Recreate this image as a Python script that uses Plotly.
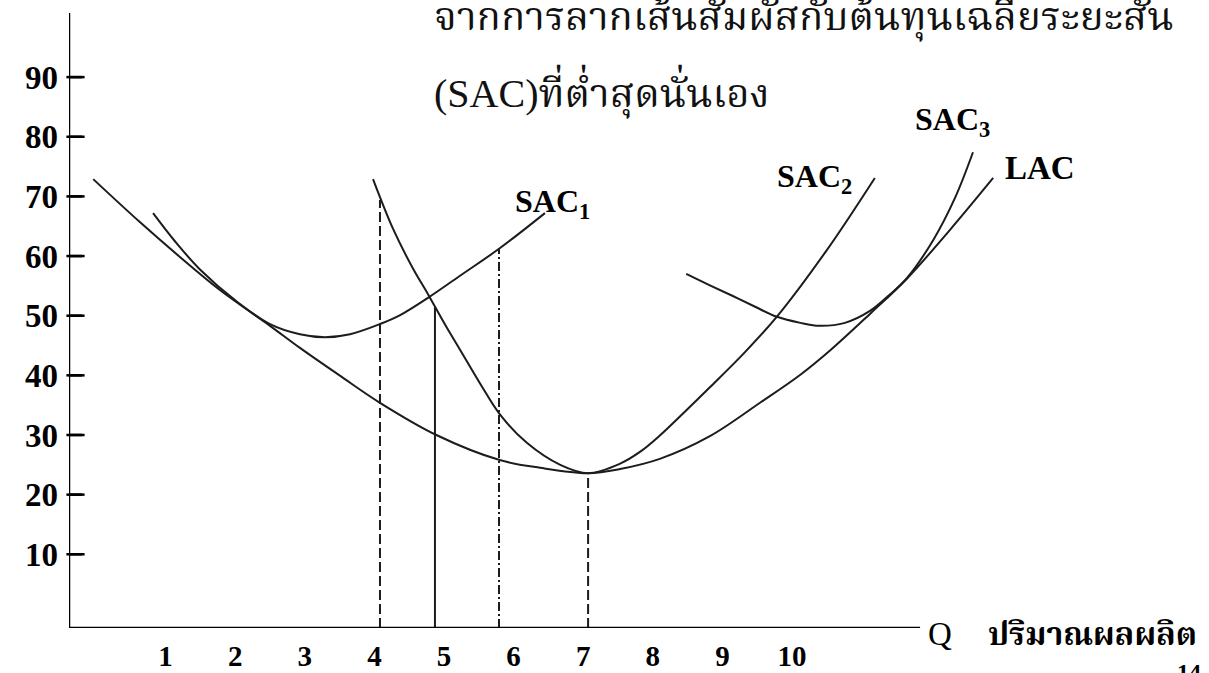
import plotly.graph_objects as go

# ---------------- data ----------------
lac_q = [-0.04, 0.63, 1.21, 1.78, 2.50, 2.93, 3.51, 4.08, 4.89, 5.80, 6.38, 7.07,
         7.53, 8.10, 8.82, 9.54, 10.12, 10.55, 11.12, 11.65, 12.27, 12.89]
lac_c = [72.9, 65.7, 59.8, 54.3, 48.3, 44.6, 39.9, 35.4, 30.0, 25.8, 24.5, 23.6,
         24.3, 26.0, 29.8, 35.4, 40.1, 44.2, 50.3, 56.2, 64.4, 73.1]

sac1_q = [0.82, 1.14, 1.49, 2.01, 2.50, 2.93, 3.29, 3.65, 4.08, 4.37, 4.77, 5.23, 5.80, 6.45]
sac1_c = [67.2, 62.4, 57.8, 52.5, 48.6, 46.9, 46.4, 46.9, 48.6, 50.1, 53.0, 56.7, 61.3, 67.2]

sac2_q = [3.98, 4.27, 4.55, 4.77, 5.01, 5.23, 5.52, 5.80, 6.19, 6.67, 7.07, 7.53,
          7.82, 8.10, 8.46, 8.82, 9.30, 9.78, 10.50, 11.19]
sac2_c = [72.9, 64.5, 58.0, 53.6, 48.6, 44.3, 38.6, 33.5, 28.7, 25.0, 23.6, 25.2,
          27.2, 29.9, 33.9, 38.0, 43.6, 49.8, 61.0, 73.1]

sac3_q = [8.48, 8.82, 9.15, 9.47, 9.76, 10.12, 10.40, 10.76, 11.12, 11.41, 11.65,
          12.03, 12.34, 12.60]
sac3_c = [57.0, 55.1, 53.3, 51.5, 49.9, 48.8, 48.3, 48.8, 50.8, 53.6, 56.3,
          62.7, 69.7, 77.4]

guide_q = [4.08, 4.87, 5.79, 7.07]
guide_top = [69.4, 51.5, 61.3, 23.6]
guide_dash = ["10px,4px", "solid", "9px,3px,2px,3px", "10px,4px"]

x_ticks = [1, 2, 3, 4, 5, 6, 7, 8, 9, 10]
x_tick_text = ["1", "2", "3", "4", "5", "6", "7", "8", "9", "10"]
y_ticks = [10, 20, 30, 40, 50, 60, 70, 80, 90]
y_tick_text = ["10", "20", "30", "40", "50", "60", "70", "80", "90"]

title_line1 = "จากการลากเส้นสัมผัสกับต้นทุนเฉลี่ยระยะสั้น"
title_line2_latin = "(SAC)"
title_line2_thai = "ที่ต่ำสุดนั่นเอง"
x_title_q = "Q"
x_title_th = "ปริมาณผลผลิต"
page_no = "14"

# ---------------- layout constants ----------------
W, H = 1209, 673
X_RANGE = [-0.388, 15.991]
Y_RANGE = [-2.36, 100.75]
X_AXIS_END = 11.84
AXIS_PX = 69
TICK_LEN_PX = 13
PX_PER_Q = (W - AXIS_PX) / (X_RANGE[1] - X_RANGE[0])
SERIF = "Liberation Serif, Times New Roman, serif"
THAI = "Liberation Serif, Noto Serif Thai, Garuda, Loma, serif"
INK = "#1c1c1c"


def px(p):
    return p / W


def py(p):
    return 1 - p / H


fig = go.Figure()

for q, c in [(lac_q, lac_c), (sac1_q, sac1_c), (sac2_q, sac2_c), (sac3_q, sac3_c)]:
    fig.add_trace(go.Scatter(x=q, y=c, mode="lines",
                             line=dict(color=INK, width=2, shape="spline", smoothing=1.0),
                             hoverinfo="skip"))

for q, top, d in zip(guide_q, guide_top, guide_dash):
    fig.add_trace(go.Scatter(x=[q, q], y=[Y_RANGE[0], top], mode="lines",
                             line=dict(color=INK, width=2, dash=d), hoverinfo="skip"))

# short tick marks pointing right from the y axis, drawn as horizontal-line markers
tick_center_q = X_RANGE[0] + (TICK_LEN_PX / 2) / PX_PER_Q
fig.add_trace(go.Scatter(x=[tick_center_q] * len(y_ticks), y=y_ticks, mode="markers",
                         marker=dict(symbol="line-ew", size=TICK_LEN_PX, color="black",
                                     line=dict(color="black", width=2.5)),
                         cliponaxis=False, hoverinfo="skip"))

# same ticks as shapes (page x, data y)
for v in y_ticks:
    fig.add_shape(type="line", xref="paper", yref="y",
                  x0=px(AXIS_PX), x1=px(AXIS_PX + TICK_LEN_PX), y0=v, y1=v,
                  line=dict(color="black", width=2.5), layer="above")

# y axis line
fig.add_shape(type="line", xref="x", yref="y", x0=X_RANGE[0], x1=X_RANGE[0],
              y0=Y_RANGE[0], y1=Y_RANGE[1], line=dict(color="black", width=2.5),
              layer="above")
# x axis line (stops before the curves end)
fig.add_shape(type="line", xref="x", yref="y", x0=X_RANGE[0], x1=X_AXIS_END,
              y0=Y_RANGE[0], y1=Y_RANGE[0], line=dict(color="black", width=2.5),
              layer="above")

fig.update_layout(
    width=W, height=H, margin=dict(l=0, r=0, t=0, b=0),
    paper_bgcolor="white", plot_bgcolor="white", showlegend=False,
    xaxis=dict(range=X_RANGE, domain=[AXIS_PX / W, 1], showgrid=False, zeroline=False,
               showline=False, tickvals=x_ticks, ticktext=x_tick_text, ticks="",
               ticklabelstandoff=8, automargin=False,
               tickfont=dict(family=SERIF, size=29, color="black", weight="bold")),
    yaxis=dict(range=Y_RANGE, domain=[45 / H, 660 / H], anchor="x",
               showgrid=False, zeroline=False, showline=False,
               tickvals=y_ticks, ticktext=y_tick_text, ticks="",
               ticklabelstandoff=10, automargin=False,
               tickfont=dict(family=SERIF, size=33, color="black", weight="bold")),
)

ann = []
ann.append(dict(text=title_line1, x=px(432), y=py(14), xanchor="left", yanchor="middle",
                font=dict(family=THAI, size=40, color="#111")))
ann.append(dict(text="<span style='font-family:Liberation Serif'>" + title_line2_latin
                + "</span>" + title_line2_thai,
                x=px(432), y=py(92), xanchor="left", yanchor="middle",
                font=dict(family=THAI, size=40, color="#111")))
ann.append(dict(text="<b>SAC<sub>1</sub></b>", x=px(513), y=py(203), xanchor="left",
                yanchor="middle", font=dict(family=SERIF, size=32, color="black")))
ann.append(dict(text="<b>SAC<sub>2</sub></b>", x=px(775), y=py(179), xanchor="left",
                yanchor="middle", font=dict(family=SERIF, size=32, color="black")))
ann.append(dict(text="<b>SAC<sub>3</sub></b>", x=px(913), y=py(121), xanchor="left",
                yanchor="middle", font=dict(family=SERIF, size=32, color="black")))
ann.append(dict(text="<b>LAC</b>", x=px(1003), y=py(168), xanchor="left",
                yanchor="middle", font=dict(family=SERIF, size=33, color="black")))
ann.append(dict(text=x_title_q, x=px(926), y=py(634), xanchor="left", yanchor="middle",
                font=dict(family=SERIF, size=33, color="black")))
ann.append(dict(text="<b>" + x_title_th + "</b>", x=px(986), y=py(634), xanchor="left",
                yanchor="middle", font=dict(family=THAI, size=32, color="black")))
ann.append(dict(text="<b>" + page_no + "</b>", x=px(1175), y=py(672), xanchor="left",
                yanchor="middle", font=dict(family=SERIF, size=24, color="black")))
for a in ann:
    a.update(xref="paper", yref="paper", showarrow=False)
fig.update_layout(annotations=ann)

fig.write_html("out.html", config={"displayModeBar": False},
               post_script="document.body.style.margin='0';")
